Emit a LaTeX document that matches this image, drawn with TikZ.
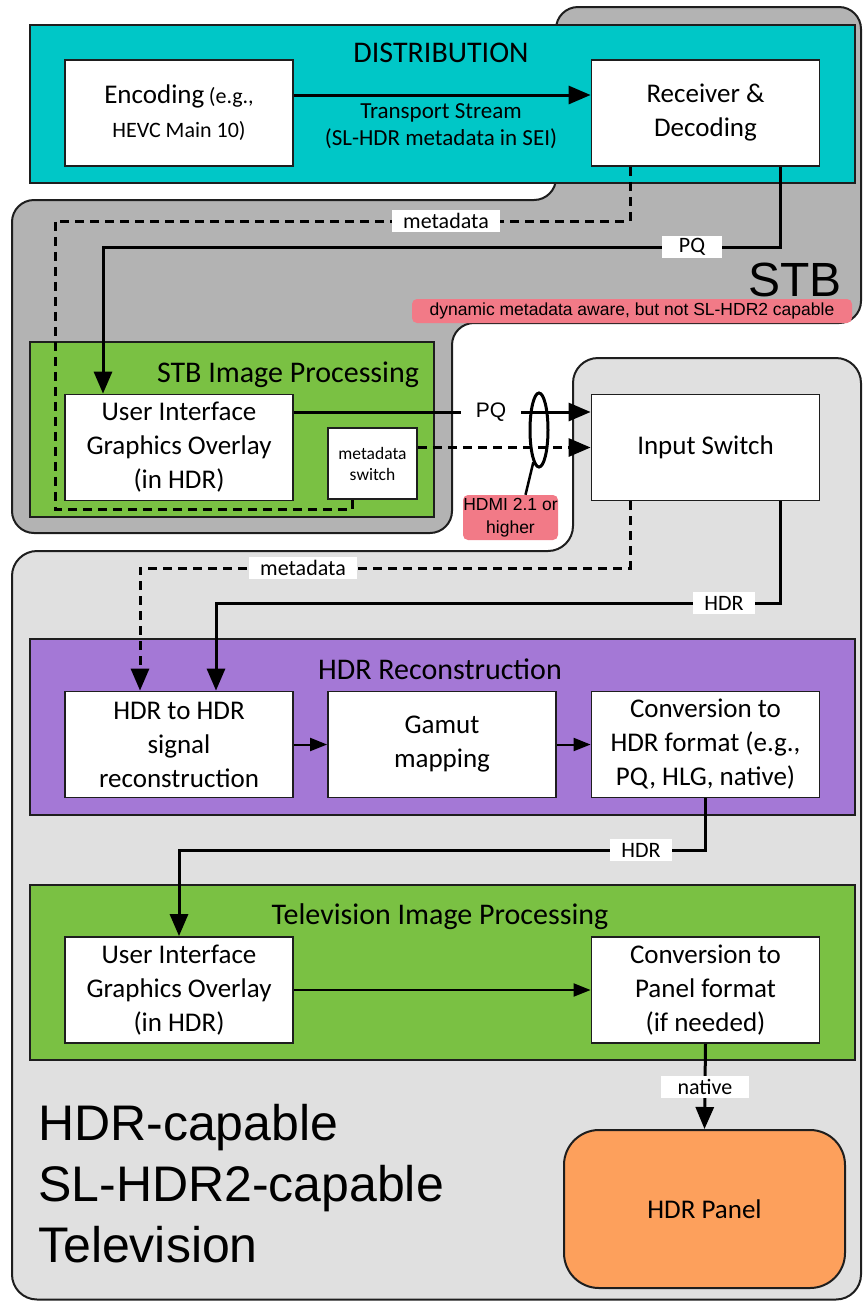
\documentclass[tikz,border=0pt]{standalone}
\usepackage{fontspec}
\setmainfont{Carlito}
\newfontfamily\arial{Liberation Sans}
\usetikzlibrary{arrows.meta,calc,shapes.geometric}

\definecolor{tealc}{RGB}{0,199,199}
\definecolor{stbgray}{RGB}{179,179,179}
\definecolor{tvgray}{RGB}{224,224,224}
\definecolor{grn}{RGB}{122,193,67}
\definecolor{purp}{RGB}{164,120,214}
\definecolor{orng}{RGB}{253,160,92}
\definecolor{pnk}{RGB}{242,122,135}
\definecolor{edge}{RGB}{30,30,30}

\begin{document}
\begin{tikzpicture}[x=1pt,y=-1pt,
 region/.style={draw=edge,line width=2pt},
 wbox/.style={draw=edge,fill=white,line width=1.8pt,minimum width=228pt,minimum height=106pt,align=center,inner sep=2pt,font=\fontsize{27}{34}\selectfont},
 title/.style={font=\fontsize{30}{36}\selectfont},
 conn/.style={line width=3pt},
 bigtip/.style={-{Triangle[length=22pt,width=18pt]}},
 smalltip/.style={-{Triangle[length=17pt,width=13pt]},line width=2pt},
 dsh/.style={dash pattern=on 9pt off 6pt},
 lab/.style={fill=white,inner xsep=11pt,inner ysep=0pt,minimum height=22pt,minimum width=60pt,font=\fontsize{22}{22}\selectfont},
 pinklab/.style={fill=pnk,rounded corners=5pt,inner sep=0pt,font=\arial\fontsize{17.5}{23}\selectfont,align=center},
 bigtext/.style={anchor=base west,font=\arial\fontsize{50}{50}\selectfont,inner sep=0pt}]

\useasboundingbox (0,0) rectangle (863,1302);

% regions
\draw[region,fill=tvgray,rounded corners=25pt] (12,1299.5) -- (12,551) -- (573,551) -- (573,358) -- (861,358) -- (861,1299.5) -- cycle;
\draw[region,fill=stbgray,rounded corners=22pt] (12,533) -- (12,200) -- (556,200) -- (556,7) -- (861,7) -- (861,323) -- (452,323) -- (452,533) -- cycle;
\draw[region,fill=tealc] (30,25) rectangle (855,183);
\draw[region,fill=grn] (30,342) rectangle (434,517);
\draw[region,fill=purp] (30,639) rectangle (855,815);
\draw[region,fill=grn] (30,885) rectangle (855,1060);

% titles
\node[title] (distT) at (441,53) {DISTRIBUTION};
\node[title] (stbipT) at (288,375) {STB Image Processing};
\node[title] (hdrrT) at (440,669) {HDR Reconstruction};
\node[title] (tvipT) at (440,917) {Television Image Processing};
\node[font=\arial\fontsize{48}{48}\selectfont,inner sep=0pt] (stbT) at (795,279.5) {STB};
\node[pinklab,minimum width=440pt,minimum height=24pt] (aware) at (632,311) {dynamic metadata aware, but not SL-HDR2 capable};

% boxes
\node[wbox] (enc) at (179,113) {Encoding\,{\fontsize{22}{27}\selectfont(e.g.,}\\{\fontsize{22}{27}\selectfont HEVC Main 10)}};
\node[wbox] (rec) at (705.5,113) {Receiver \&\\Decoding};
\node[font=\fontsize{23}{27}\selectfont,align=center] (ts) at (441,126) {Transport Stream\\(SL-HDR metadata in SEI)};

\node[wbox] (stbui) at (179,447.5) {User Interface\\Graphics Overlay\\(in HDR)};
\node[wbox,minimum width=89pt,minimum height=71pt,font=\fontsize{17.5}{21}\selectfont] (msw) at (372.5,463.5) {metadata\\switch};
\node[wbox] (insw) at (705.5,447.5) {Input Switch};

\node[wbox] (h2h) at (179,744.5) {HDR to HDR\\signal\\reconstruction};
\node[wbox] (gam) at (442,744.5) {Gamut\\mapping};
\node[wbox] (chdr) at (705.5,744.5) {Conversion to\\HDR format (e.g.,\\PQ, HLG, native)};

\node[wbox] (tvui) at (179,990) {User Interface\\Graphics Overlay\\(in HDR)};
\node[wbox] (cpan) at (705.5,990) {Conversion to\\Panel format\\(if needed)};
\node[draw=edge,line width=2pt,fill=orng,rounded corners=35pt,minimum width=281pt,minimum height=158pt,font=\fontsize{27}{34}\selectfont] (panel) at (704.5,1209) {HDR Panel};

\node[bigtext] (tv1) at (38,1140) {HDR-capable};
\node[bigtext] (tv2) at (38,1201) {SL-HDR2-capable};
\node[bigtext] (tv3) at (38,1262) {Television};

% waypoints
\coordinate (w1) at (55,221);
\coordinate (w2) at (55,509);
\coordinate (w3) at (103,247);
\coordinate (w4) at (140,568);
\coordinate (w5) at (216,603);
\coordinate (w6) at (179,850);

% connectors
\draw[conn,bigtip] ([yshift=18pt]enc.east) -- ([yshift=18pt]rec.west);
\draw[conn,dsh] ([xshift=-75.5pt]rec.south) |- (w1) -- (w2) -| ([xshift=-20pt]msw.south);
\draw[conn,bigtip] ([xshift=74.5pt]rec.south) |- (w3) -- ([xshift=-76pt]stbui.north);
\draw[conn,bigtip] ([yshift=35.5pt]stbui.east) -- ([yshift=35.5pt]insw.west);
\draw[conn,dsh,bigtip] ([yshift=16pt]msw.east) -- (insw.west);
\draw[conn,dsh,bigtip] ([xshift=-75.5pt]insw.south) |- (w4) -- ([xshift=-39pt]h2h.north);
\draw[conn,bigtip] ([xshift=74.5pt]insw.south) |- (w5) -- ([xshift=37pt]h2h.north);
\draw[smalltip] (h2h.east) -- (gam.west);
\draw[smalltip] (gam.east) -- (chdr.west);
\draw[conn,bigtip] (chdr.south) |- (w6) -- (tvui.north);
\draw[smalltip] (tvui.east) -- (cpan.west);
\draw[conn,bigtip] (cpan.south) -- (panel.north);

% labels
\node[lab] (lmeta1) at (446,221) {metadata};
\node[lab] (lpq1) at (692,247) {PQ};
\node[lab,font=\arial\fontsize{21}{21}\selectfont] (lpq2) at (491,412) {PQ};
\node[lab] (lmeta2) at (303,568) {metadata};
\node[lab] (lhdr1) at (724,603) {HDR};
\node[lab] (lhdr2) at (641,850) {HDR};
\node[lab,minimum width=88pt] (lnat) at (705,1087) {native};

% HDMI bundle
\node[draw=black,ellipse,line width=3pt,minimum width=18pt,minimum height=74pt,inner sep=0pt] (hdmiE) at (539,430) {};
\node[pinklab,minimum width=95pt,minimum height=45pt] (hdmi) at (510.5,517.5) {HDMI 2.1 or\\higher};
\draw[line width=2.5pt] (hdmiE.-100) -- ([xshift=15pt]hdmi.north);
\end{tikzpicture}
\end{document}
